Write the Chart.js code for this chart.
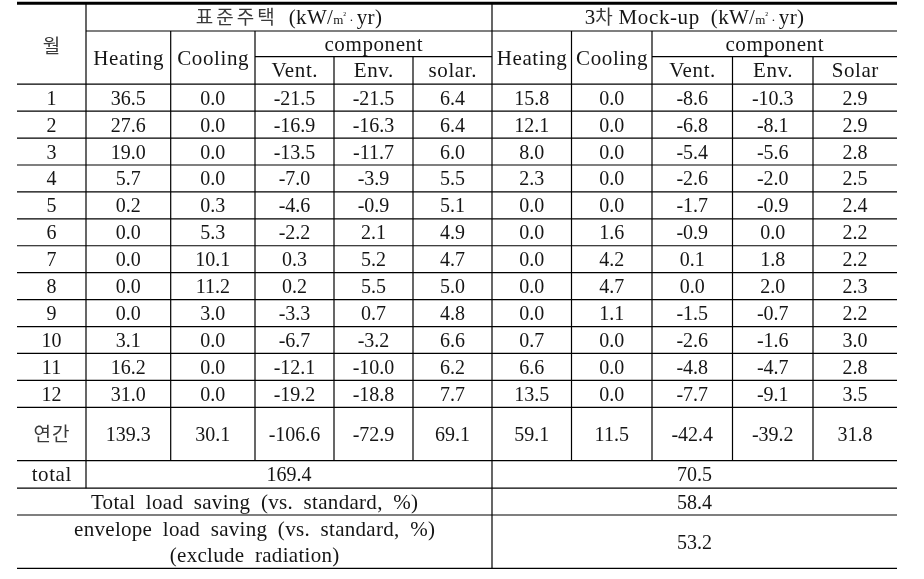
<!DOCTYPE html>
<html>
<head>
<meta charset="utf-8">
<script src="https://cdn.jsdelivr.net/npm/chart.js@4.4.1/dist/chart.umd.min.js"></script>
<style>
  html, body { margin: 0; padding: 0; background: #ffffff; }
  #wrap { width: 924px; height: 579px; }
</style>
</head>
<body>
<div id="wrap"><canvas id="c" width="924" height="579"></canvas></div>
<script>
// ---------------- DATA ----------------
const months = ['1','2','3','4','5','6','7','8','9','10','11','12'];
const annualLabel = '연간';
const monthHeader = '월';

const stdHeating = [36.5, 27.6, 19.0, 5.7, 0.2, 0.0, 0.0, 0.0, 0.0, 3.1, 16.2, 31.0];
const stdCooling = [0.0, 0.0, 0.0, 0.0, 0.3, 5.3, 10.1, 11.2, 3.0, 0.0, 0.0, 0.0];
const stdVent    = [-21.5, -16.9, -13.5, -7.0, -4.6, -2.2, 0.3, 0.2, -3.3, -6.7, -12.1, -19.2];
const stdEnv     = [-21.5, -16.3, -11.7, -3.9, -0.9, 2.1, 5.2, 5.5, 0.7, -3.2, -10.0, -18.8];
const stdSolar   = [6.4, 6.4, 6.0, 5.5, 5.1, 4.9, 4.7, 5.0, 4.8, 6.6, 6.2, 7.7];

const mockHeating = [15.8, 12.1, 8.0, 2.3, 0.0, 0.0, 0.0, 0.0, 0.0, 0.7, 6.6, 13.5];
const mockCooling = [0.0, 0.0, 0.0, 0.0, 0.0, 1.6, 4.2, 4.7, 1.1, 0.0, 0.0, 0.0];
const mockVent    = [-8.6, -6.8, -5.4, -2.6, -1.7, -0.9, 0.1, 0.0, -1.5, -2.6, -4.8, -7.7];
const mockEnv     = [-10.3, -8.1, -5.6, -2.0, -0.9, 0.0, 1.8, 2.0, -0.7, -1.6, -4.7, -9.1];
const mockSolar   = [2.9, 2.9, 2.8, 2.5, 2.4, 2.2, 2.2, 2.3, 2.2, 3.0, 2.8, 3.5];

const stdAnnual  = [139.3, 30.1, -106.6, -72.9, 69.1];
const mockAnnual = [59.1, 11.5, -42.4, -39.2, 31.8];
const totalLabel = 'total';
const totals = [169.4, 70.5];
const totalSavingLabel = 'Total load saving (vs. standard, %)';
const totalSaving = 58.4;
const envSavingLabel = ['envelope load saving (vs. standard, %)', '(exclude radiation)'];
const envSaving = 53.2;

const groupNames = ['표준주택', '3차 Mock-up'];
const mainHeaders = ['Heating', 'Cooling'];
const componentHeader = 'component';
const stdComponents = ['Vent.', 'Env.', 'solar.'];
const mockComponents = ['Vent.', 'Env.', 'Solar'];

// ---------------- LAYOUT (positions in scale units) ----------------
const colEdges = [17, 86, 170.7, 255, 334, 413, 492, 571.5, 652, 732.5, 813, 897];
const yTop = 3.2, yH1 = 31, yH2 = 56.7, yHead = 84.2, yData = 407.3,
      yAnnual = 460.7, yTotal = 488.2, ySaving = 515, yEnv = 568.3;

const SERIF = '"Liberation Serif", "Times New Roman", serif';
const KR = '"Noto Sans CJK KR", "Noto Sans CJK SC", sans-serif';
const TEXT = '#151515';
const KTEXT = '#3a3a3a';

const tablePlugin = {
  id: 'tablePlugin',
  afterDraw(chart) {
    const ctx = chart.ctx;
    const X = v => chart.scales.x.getPixelForValue(v);
    const Y = v => chart.scales.y.getPixelForValue(v);
    const rowH = (yData - yHead) / months.length;
    const fmt = v => v.toFixed(1);

    ctx.save();
    ctx.fillStyle = '#ffffff';
    ctx.fillRect(0, 0, chart.width, chart.height);

    // ---------- lines ----------
    ctx.strokeStyle = '#000000';
    const hline = (y, x0, x1, w) => {
      ctx.lineWidth = w || 1.2;
      ctx.beginPath(); ctx.moveTo(X(x0), Y(y)); ctx.lineTo(X(x1), Y(y)); ctx.stroke();
    };
    const vline = (x, y0, y1) => {
      ctx.lineWidth = 1.2;
      ctx.beginPath(); ctx.moveTo(X(x), Y(y0)); ctx.lineTo(X(x), Y(y1)); ctx.stroke();
    };
    const L = colEdges[0], R = colEdges[colEdges.length - 1];
    hline(yTop, L, R, 3);
    hline(yH1, colEdges[1], R);
    hline(yH2, colEdges[3], colEdges[6]);
    hline(yH2, colEdges[8], R);
    hline(yHead, L, R);
    for (let i = 1; i <= months.length; i++) hline(yHead + i * rowH, L, R);
    hline(yAnnual, L, R);
    hline(yTotal, L, R);
    hline(ySaving, L, R);
    hline(yEnv, L, R);

    vline(colEdges[1], yTop, yTotal);
    vline(colEdges[6], yTop, yEnv);
    [2, 3, 7, 8].forEach(k => vline(colEdges[k], yH1, yAnnual));
    [4, 5, 9, 10].forEach(k => vline(colEdges[k], yH2, yAnnual));

    // ---------- text ----------
    ctx.textBaseline = 'alphabetic';
    const text = (str, cx, cy, font, ls, ws, color) => {
      ctx.font = font || ('20px ' + SERIF);
      ctx.fillStyle = color || TEXT;
      ctx.letterSpacing = ls || '0px';
      ctx.wordSpacing = ws || '0px';
      ctx.textAlign = 'left';
      const w = ctx.measureText(str).width - parseFloat(ls || '0');
      ctx.fillText(str, X(cx) - w / 2, Y(cy) + 7);
      ctx.letterSpacing = '0px';
      ctx.wordSpacing = '0px';
    };
    const runs = (list, cx, cy) => {
      let w = 0;
      list.forEach(r => {
        ctx.font = r.f; ctx.letterSpacing = r.ls || '0px';
        r.w = ctx.measureText(r.t).width; w += r.w;
      });
      let x = X(cx) - w / 2;
      ctx.textAlign = 'left';
      list.forEach(r => {
        ctx.font = r.f; ctx.letterSpacing = r.ls || '0px';
        ctx.fillStyle = r.c || TEXT;
        ctx.fillText(r.t, x, Y(cy) + 7 + (r.dy || 0));
        x += r.w;
      });
      ctx.letterSpacing = '0px';
    };
    const cx = (a, b) => (colEdges[a] + colEdges[b]) / 2;
    const S20 = '20px ' + SERIF;
    const S21 = '21px ' + SERIF;
    const K19 = '19px ' + KR;
    const WLS = '0.6px';
    const unitRuns = [
      { t: '  (kW/', f: S21, ls: '0.3px' },
      { t: 'm', f: '13px ' + SERIF },
      { t: '²', f: '9px ' + SERIF, dy: -6 },
      { t: ' · ', f: '13px ' + SERIF },
      { t: 'yr)', f: S21, ls: '0.3px' }
    ];

    // header
    text(monthHeader, cx(0, 1), (yTop + yHead) / 2 + 2, K19, '0px', '0px', KTEXT);
    runs([{ t: groupNames[0], f: K19, ls: '3px', c: KTEXT }].concat(unitRuns), cx(1, 6), (yTop + yH1) / 2);
    runs([{ t: groupNames[1].slice(0, 1), f: S21 },
          { t: groupNames[1].slice(1, 2), f: K19, c: KTEXT },
          { t: groupNames[1].slice(2), f: S21, ls: '0.6px' }].concat(unitRuns), cx(6, 11), (yTop + yH1) / 2);
    [[1, 2], [2, 3], [6, 7], [7, 8]].forEach((p, i) =>
      text(mainHeaders[i % 2], cx(p[0], p[1]), (yH1 + yHead) / 2, S21, WLS));
    text(componentHeader, cx(3, 6), (yH1 + yH2) / 2, S21, WLS);
    text(componentHeader, cx(8, 11), (yH1 + yH2) / 2, S21, WLS);
    stdComponents.forEach((s, i) => text(s, cx(3 + i, 4 + i), (yH2 + yHead) / 2, S21, WLS));
    mockComponents.forEach((s, i) => text(s, cx(8 + i, 9 + i), (yH2 + yHead) / 2, S21, WLS));

    // data rows
    const cols = [stdHeating, stdCooling, stdVent, stdEnv, stdSolar,
                  mockHeating, mockCooling, mockVent, mockEnv, mockSolar];
    months.forEach((m, r) => {
      const yc = yHead + (r + 0.5) * rowH;
      text(m, cx(0, 1), yc);
      cols.forEach((arr, c) => text(fmt(arr[r]), cx(c + 1, c + 2), yc));
    });
    const ya = (yData + yAnnual) / 2;
    text(annualLabel, cx(0, 1), ya, K19, '1px', '0px', KTEXT);
    stdAnnual.forEach((v, c) => text(fmt(v), cx(c + 1, c + 2), ya));
    mockAnnual.forEach((v, c) => text(fmt(v), cx(c + 6, c + 7), ya));

    const yt = (yAnnual + yTotal) / 2;
    text(totalLabel, cx(0, 1), yt, S21, WLS);
    text(fmt(totals[0]), cx(1, 6), yt);
    text(fmt(totals[1]), cx(6, 11), yt);

    const ys = (yTotal + ySaving) / 2;
    text(totalSavingLabel, cx(0, 6), ys, S21, '0.3px', '5px');
    text(fmt(totalSaving), cx(6, 11), ys);

    const ye = (ySaving + yEnv) / 2;
    text(envSavingLabel[0], cx(0, 6), ye - 13, S21, '0.3px', '5px');
    text(envSavingLabel[1], cx(0, 6), ye + 13, S21, '0.3px', '5px');
    text(fmt(envSaving), cx(6, 11), ye);
    ctx.restore();
  }
};

new Chart(document.getElementById('c'), {
  type: 'scatter',
  data: { datasets: [{ data: [], showLine: false }] },
  options: {
    responsive: false,
    animation: false,
    devicePixelRatio: 1,
    layout: { padding: 0 },
    events: [],
    plugins: { legend: { display: false }, tooltip: { enabled: false }, title: { display: false } },
    scales: {
      x: { type: 'linear', min: 0, max: 924, display: false },
      y: { type: 'linear', min: 0, max: 579, reverse: true, display: false }
    }
  },
  plugins: [tablePlugin]
});
</script>
</body>
</html>
